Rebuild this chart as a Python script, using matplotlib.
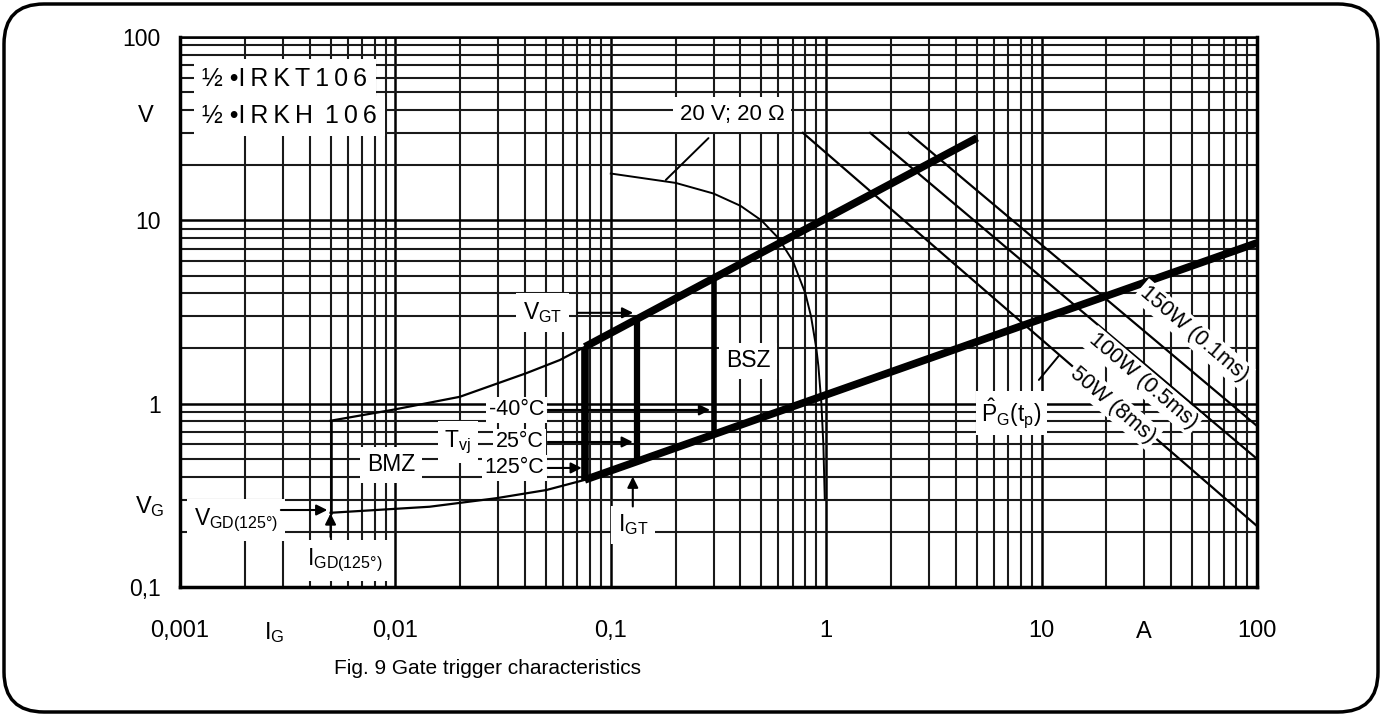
import numpy as np
import matplotlib.pyplot as plt
from matplotlib.patches import FancyBboxPatch

plt.rcParams['font.family'] = ['Liberation Sans', 'DejaVu Sans']
plt.rcParams['mathtext.fontset'] = 'custom'
plt.rcParams['mathtext.rm'] = 'Liberation Sans'
plt.rcParams['mathtext.it'] = 'Liberation Sans'

# Daten
vgt_upper_i = [0.0757, 5.02]          # obere Grenze BSZ
vgt_upper_v = [2.04, 28.2]
vgt_lower_i = [0.0757, 100]           # untere Grenze BSZ
vgt_lower_v = [0.384, 7.53]

bar_i = [0.0757, 0.132, 0.30]         # I_GT bei 125, 25, -40 C
bar_top = [2.04, 2.89, 4.83]
bar_bot = [0.384, 0.483, 0.679]
bar_lw = [5.5, 4.5, 4.0]

bmz_upper_i = [0.005, 0.00968, 0.0199, 0.0405, 0.058, 0.0757]
bmz_upper_v = [0.807, 0.925, 1.09, 1.466, 1.73, 2.04]
bmz_lower_i = [0.005, 0.0144, 0.0294, 0.0502, 0.0757]
bmz_lower_v = [0.254, 0.274, 0.305, 0.338, 0.384]
igd = 0.005
vgd = 0.254

load_i = [0.1, 0.2, 0.3, 0.4, 0.5, 0.6, 0.7, 0.8, 0.85, 0.9, 0.92, 0.95, 0.97, 0.985]
load_v = [18, 16, 14, 12, 10, 8, 6, 4, 3, 2, 1.6, 1.0, 0.6, 0.3]

pg_labels = ['50W (8ms)', '100W (0.5ms)', '150W (0.1ms)']
pg_i = [[0.78, 100], [1.60, 100], [2.41, 100]]
pg_v = [[30, 0.215], [30, 0.50], [30, 0.756]]
pg_text_pos = [(21.4, 0.984), (29.5, 1.33), (50.9, 2.4)]

xticks = [0.001, 0.01, 0.1, 1, 10, 100]
xticklabels = ['0,001', '0,01', '0,1', '1', '10', '100']
yticks = [0.1, 1, 10, 100]
yticklabels = ['0,1', '1', '10', '100']

fig = plt.figure(figsize=(13.83, 7.15), dpi=100)
ax = fig.add_axes([180/1383, 128/715, 1077/1383, 550/715])
ax.set_xscale('log')
ax.set_yscale('log')
ax.set_xlim(0.001, 100)
ax.set_ylim(0.1, 100)

ax.grid(which='major', color='black', lw=1.8)
ax.grid(which='minor', color='#1a1a1a', lw=1.5)
ax.set_axisbelow(True)
ax.tick_params(which='both', length=0)
ax.set_xticks(xticks, xticklabels, fontsize=17)
ax.set_yticks(yticks, yticklabels, fontsize=16.5)
ax.tick_params(axis='x', pad=24)
ax.tick_params(axis='y', pad=14)
for s in ax.spines.values():
    s.set_linewidth(1.8)
ax.spines['left'].set_linewidth(2.5)
ax.spines['bottom'].set_linewidth(2.5)
ax.spines['right'].set_linewidth(2.5)

# Kurven
ax.plot(vgt_upper_i, vgt_upper_v, color='black', lw=5.5, solid_capstyle='butt', zorder=4)
ax.plot(vgt_lower_i, vgt_lower_v, color='black', lw=5.5, solid_capstyle='butt', zorder=4)
for xi, t, b, w in zip(bar_i, bar_top, bar_bot, bar_lw):
    ax.plot([xi, xi], [b, t], color='black', lw=w, solid_capstyle='butt', zorder=4)
ax.plot(bmz_upper_i, bmz_upper_v, color='black', lw=1.6, zorder=3)
ax.plot(bmz_lower_i, bmz_lower_v, color='black', lw=1.6, zorder=3)
ax.plot([igd, igd], [vgd, bmz_upper_v[0]], color='black', lw=1.8, zorder=3)
ax.plot(load_i, load_v, color='black', lw=1.4, zorder=3)
for xs, ys in zip(pg_i, pg_v):
    ax.plot(xs, ys, color='black', lw=1.6, zorder=3)

wbox = dict(fc='white', ec='none', pad=2)
arr = dict(arrowstyle='-|>', color='black', lw=1.5, mutation_scale=16, shrinkA=0, shrinkB=0)

ts = '\u2009'
ax.text(0.00127, 59, '½ •' + ts.join('IRKT106'), fontsize=18, ha='left', va='center', zorder=5,
        bbox=dict(fc='white', ec='none', pad=6))
ax.text(0.00127, 37.1, '½ •' + ts.join('IRKH') + ts + ' ' + ts.join('106'), fontsize=18,
        ha='left', va='center', zorder=5, bbox=dict(fc='white', ec='none', pad=6))

ax.annotate('20 V; 20 Ω', xy=(0.180, 16.6), xytext=(0.366, 37.6), fontsize=16,
            ha='center', va='center', bbox=dict(fc='white', ec='none', pad=5),
            arrowprops=dict(arrowstyle='-', color='black', lw=1.4, shrinkA=6, shrinkB=0), zorder=5)

ax.text(0.0483, 3.13, r'$\mathregular{V_{GT}}$', fontsize=16.5, ha='center', va='center',
        bbox=dict(fc='white', ec='none', pad=5), zorder=5)
ax.annotate('', xy=(0.127, 3.13), xytext=(0.0703, 3.13), arrowprops=arr, zorder=5)

ax.text(0.0365, 0.924, '-40°C', fontsize=15.5, ha='center', va='center', bbox=wbox, zorder=5)
ax.annotate('', xy=(0.289, 0.924), xytext=(0.051, 0.924), arrowprops=arr, zorder=5)
ax.text(0.0377, 0.618, '25°C', fontsize=15.5, ha='center', va='center', bbox=wbox, zorder=5)
ax.annotate('', xy=(0.1265, 0.618), xytext=(0.051, 0.618), arrowprops=arr, zorder=5)
ax.text(0.0356, 0.446, '125°C', fontsize=15.5, ha='center', va='center', bbox=wbox, zorder=5)
ax.annotate('', xy=(0.0733, 0.446), xytext=(0.051, 0.446), arrowprops=arr, zorder=5)
ax.text(0.0195, 0.618, r'$\mathregular{T_{vj}}$', fontsize=16.5, ha='center', va='center',
        bbox=dict(fc='white', ec='none', pad=5), zorder=5)
ax.text(0.00958, 0.463, 'BMZ', fontsize=16.5, ha='center', va='center',
        bbox=dict(fc='white', ec='none', pad=5), zorder=5)
ax.text(0.434, 1.71, 'BSZ', fontsize=16.5, ha='center', va='center',
        bbox=dict(fc='white', ec='none', pad=5), zorder=5)

ax.text(0.1265, 0.218, r'$\mathregular{I_{GT}}$', fontsize=16.5, ha='center', va='center',
        bbox=dict(fc='white', ec='none', pad=5), zorder=5)
ax.annotate('', xy=(0.1265, 0.40), xytext=(0.1265, 0.275), arrowprops=arr, zorder=5)

ax.text(0.00182, 0.232, r'$\mathregular{V_{GD(125°)}}$', fontsize=16.5, ha='center', va='center',
        bbox=dict(fc='white', ec='none', pad=5), zorder=5)
ax.annotate('', xy=(0.00483, 0.263), xytext=(0.00294, 0.263), arrowprops=arr, zorder=5)
ax.text(0.0058, 0.14, r'$\mathregular{I_{GD(125°)}}$', fontsize=16.5, ha='center', va='center',
        bbox=dict(fc='white', ec='none', pad=5), zorder=5)
ax.annotate('', xy=(igd, 0.252), xytext=(igd, 0.1875), arrowprops=arr, zorder=5)

ax.annotate(r'$\mathregular{\hat{P}_G(t_p)}$', xy=(12.0, 1.82), xytext=(7.25, 0.889), fontsize=16.5,
            ha='center', va='center', bbox=dict(fc='white', ec='none', pad=4),
            arrowprops=dict(arrowstyle='-', color='black', lw=1.4, shrinkA=10, shrinkB=0), zorder=5)
for lab, (tx, ty) in zip(pg_labels, pg_text_pos):
    ax.text(tx, ty, lab, fontsize=15.5, ha='center', va='center', rotation=-40.5,
            rotation_mode='anchor', bbox=dict(fc='white', ec='none', pad=2), zorder=5)

# Achsenbeschriftungen
ax.text(-0.0316, 37.1, 'V', fontsize=17, ha='center', va='center',
        transform=ax.get_yaxis_transform())
ax.text(-0.028, 0.273, r'$\mathregular{V_G}$', fontsize=17, ha='center', va='center',
        transform=ax.get_yaxis_transform())
ax.text(0.00274, -0.082, r'$\mathregular{I_G}$', fontsize=17, ha='center', va='center',
        transform=ax.get_xaxis_transform())
ax.text(29.8, -0.082, 'A', fontsize=17, ha='center', va='center',
        transform=ax.get_xaxis_transform())

fig.text(334/1383, 1 - 669/715, 'Fig. 9 Gate trigger characteristics', fontsize=15,
         ha='left', va='center')

border = FancyBboxPatch((0.04, 0.03), 13.74, 7.08, boxstyle='round,pad=0,rounding_size=0.4',
                        transform=fig.dpi_scale_trans, fc='none', ec='black', lw=2.5)
fig.patches.append(border)

fig.savefig('out.png', dpi=100)
